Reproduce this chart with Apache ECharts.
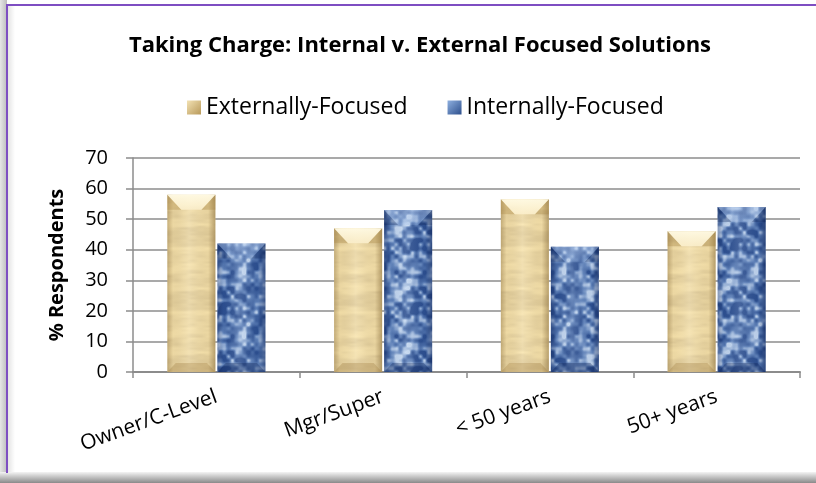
<!DOCTYPE html>
<html>
<head>
<meta charset="utf-8">
<script src="https://cdn.jsdelivr.net/npm/echarts@6/dist/echarts.min.js"></script>
<style>
  html, body { margin: 0; padding: 0; background: #ffffff; }
  #chart { width: 816px; height: 483px; }
</style>
</head>
<body>
<div id="chart"></div>
<script>
// Survey groups and the share of respondents choosing each kind of solution (%)
const categories = ['Owner/C-Level', 'Mgr/Super', '< 50 years', '50+ years'];
const externallyFocused = [58, 47, 56.5, 46];
const internallyFocused = [42, 53, 41, 54];
const seriesNames = ['Externally-Focused', 'Internally-Focused'];
const yMin = 0, yMax = 70, yStep = 10;

const FONT = '"Open Sans", Lato, sans-serif';

// deterministic value-noise used to paint the bar textures
function hash(ix, iy, s) {
  const n = Math.sin(ix * 127.1 + iy * 311.7 + s * 74.7) * 43758.5453;
  return n - Math.floor(n);
}
function noise(x, y, cx, cy, size, s) {
  const gx = size / cx, gy = size / cy;
  const fx = x / cx, fy = y / cy;
  const x0 = Math.floor(fx), y0 = Math.floor(fy);
  const tx = fx - x0, ty = fy - y0;
  const sx = tx * tx * (3 - 2 * tx), sy = ty * ty * (3 - 2 * ty);
  const h = (a, b) => hash(((a % gx) + gx) % gx, ((b % gy) + gy) % gy, s);
  const a = h(x0, y0), b = h(x0 + 1, y0), c = h(x0, y0 + 1), d = h(x0 + 1, y0 + 1);
  return (a * (1 - sx) + b * sx) * (1 - sy) + (c * (1 - sx) + d * sx) * sy;
}
function makeTexture(kind) {
  const size = 64;
  const cv = document.createElement('canvas');
  cv.width = size; cv.height = size;
  const ctx = cv.getContext('2d');
  const img = ctx.createImageData(size, size);
  for (let y = 0; y < size; y++) {
    for (let x = 0; x < size; x++) {
      let r, g, b;
      if (kind === 'tan') {
        const n1 = noise(x, y, 32, 4, size, 1);
        const n2 = noise(x, y, 8, 2, size, 2);
        const k = (n1 - 0.5) * 22 + (n2 - 0.5) * 10;
        r = 236 + k; g = 216 + k; b = 164 + k * 0.8;
      } else {
        const n1 = noise(x, y, 4, 4, size, 3);
        const n2 = noise(x, y, 8, 8, size, 4);
        const n = n1 * 0.6 + n2 * 0.4;
        if (n > 0.55) {
          const t = Math.min(1, (n - 0.55) / 0.25);
          r = 100 + 95 * t; g = 135 + 80 * t; b = 190 + 50 * t;
        } else {
          const t = Math.min(1, (0.55 - n) / 0.3);
          r = 100 - 55 * t; g = 135 - 55 * t; b = 190 - 45 * t;
        }
      }
      const i = (y * size + x) * 4;
      img.data[i] = r; img.data[i + 1] = g; img.data[i + 2] = b; img.data[i + 3] = 255;
    }
  }
  ctx.putImageData(img, 0, 0);
  return cv;
}

const textures = [makeTexture('tan'), makeTexture('blue')];
const bevel = [
  { top: ['rgba(255,250,228,0.95)', 'rgba(252,240,205,0.85)'], corner: 'rgba(160,125,60,0.35)',
    bottom: 'rgba(150,115,55,0.28)', edge: 'rgba(110,80,30,' },
  { top: ['rgba(190,210,240,0.45)', 'rgba(150,180,225,0.25)'], corner: 'rgba(10,30,80,0.25)',
    bottom: 'rgba(10,30,80,0.30)', edge: 'rgba(10,25,70,' }
];

// beveled bar, positioned from the category band and value scale
function makeRenderer(si) {
  return function (params, api) {
    const ci = api.value(0), v = api.value(1);
    const band = api.size([1, 0])[0];
    const w = band * 0.288;
    const gap = band * 0.012;
    const base = api.coord([ci, 0]);
    const top = api.coord([ci, v]);
    const x = si === 0 ? base[0] - gap / 2 - w : base[0] + gap / 2;
    const y = top[1], yb = base[1], h = yb - y;
    const d = Math.min(15, h / 2), bw = Math.min(14, w / 3);
    const bv = bevel[si];
    return {
      type: 'group',
      children: [
        { type: 'rect', shape: { x: x, y: y, width: w, height: h },
          style: { fill: { image: textures[si], repeat: 'repeat' } } },
        { type: 'rect', shape: { x: x, y: y, width: w, height: h },
          style: { fill: new echarts.graphic.LinearGradient(0, 0, 1, 0, [
            { offset: 0, color: bv.edge + '0.35)' },
            { offset: 0.12, color: bv.edge + '0.05)' },
            { offset: 0.45, color: 'rgba(255,255,255,0.12)' },
            { offset: 0.85, color: bv.edge + '0.05)' },
            { offset: 1, color: bv.edge + '0.45)' }
          ]) } },
        { type: 'polygon', shape: { points: [[x, y], [x + bw, y + d], [x, y + d]] },
          style: { fill: bv.corner } },
        { type: 'polygon', shape: { points: [[x + w, y], [x + w - bw, y + d], [x + w, y + d]] },
          style: { fill: bv.corner } },
        { type: 'polygon', shape: { points: [[x, y], [x + w, y], [x + w - bw, y + d], [x + bw, y + d]] },
          style: { fill: new echarts.graphic.LinearGradient(0, 0, 0, 1, [
            { offset: 0, color: bv.top[0] }, { offset: 1, color: bv.top[1] }
          ]) } },
        { type: 'polygon', shape: { points: [[x, yb], [x + w, yb], [x + w - bw * 0.6, yb - d * 0.6], [x + bw * 0.6, yb - d * 0.6]] },
          style: { fill: bv.bottom } }
      ]
    };
  };
}

const legendColors = [
  new echarts.graphic.LinearGradient(0, 0, 1, 1, [{ offset: 0, color: '#f3e2b4' }, { offset: 1, color: '#b8995a' }]),
  new echarts.graphic.LinearGradient(0, 0, 1, 1, [{ offset: 0, color: '#8fb0e0' }, { offset: 1, color: '#2d4f8c' }])
];

const chart = echarts.init(document.getElementById('chart'), null, { renderer: 'canvas' });
chart.setOption({
  animation: false,
  backgroundColor: '#ffffff',
  textStyle: { fontFamily: FONT },
  graphic: [
    { type: 'rect', z: -10, shape: { x: 0, y: 0, width: 7, height: 483 },
      style: { fill: new echarts.graphic.LinearGradient(0, 0, 1, 0, [{ offset: 0, color: '#e6e6e6' }, { offset: 1, color: '#bdbdbd' }]) } },
    { type: 'rect', z: -10, shape: { x: 0, y: 472, width: 816, height: 11 },
      style: { fill: new echarts.graphic.LinearGradient(0, 0, 0, 1, [{ offset: 0, color: '#f4f4f4' }, { offset: 1, color: '#8a8a8a' }]) } },
    { type: 'rect', z: -10, shape: { x: 8, y: 6, width: 7, height: 466 },
      style: { fill: new echarts.graphic.LinearGradient(0, 0, 1, 0, [{ offset: 0, color: 'rgba(0,0,0,0.10)' }, { offset: 1, color: 'rgba(0,0,0,0)' }]) } },
    { type: 'polyline', z: 10, shape: { points: [[7, 473], [7, 5], [816, 5]] },
      style: { stroke: '#7e4ec2', lineWidth: 2, fill: null } },
    { type: 'text', x: 420, y: 46,
      style: { text: 'Taking Charge: Internal v. External Focused Solutions', font: 'bold 22px ' + FONT,
               fill: '#000', textAlign: 'center', textVerticalAlign: 'middle' } }
  ],
  legend: {
    left: 182, top: 91,
    itemWidth: 14, itemHeight: 14, itemGap: 40,
    icon: 'rect',
    textStyle: { fontSize: 23, color: '#000', fontFamily: FONT },
    data: seriesNames
  },
  grid: { left: 133, right: 16, top: 158, bottom: 111, containLabel: false },
  xAxis: {
    type: 'category',
    data: categories,
    boundaryGap: true,
    axisLine: { lineStyle: { color: '#8c8c8c', width: 2 } },
    axisTick: { show: true, length: 6, lineStyle: { color: '#8c8c8c', width: 1.5 } },
    axisLabel: { rotate: 20, fontSize: 21, color: '#000', margin: 24, fontFamily: FONT }
  },
  yAxis: {
    type: 'value',
    min: yMin, max: yMax, interval: yStep,
    name: '% Respondents',
    nameLocation: 'middle',
    nameGap: 66,
    nameTextStyle: { fontSize: 20, fontWeight: 'bold', color: '#000', fontFamily: FONT },
    axisLine: { show: true, lineStyle: { color: '#8c8c8c', width: 1.5 } },
    axisTick: { show: true, length: 7, lineStyle: { color: '#8c8c8c', width: 1.5 } },
    axisLabel: { fontSize: 20, color: '#000', margin: 25, fontFamily: FONT },
    splitLine: { lineStyle: { color: '#8c8c8c', width: 1.5 } }
  },
  series: [
    { name: seriesNames[0], type: 'custom', renderItem: makeRenderer(0),
      itemStyle: { color: legendColors[0] },
      encode: { x: 0, y: 1 }, data: externallyFocused.map((v, i) => [i, v]) },
    { name: seriesNames[1], type: 'custom', renderItem: makeRenderer(1),
      itemStyle: { color: legendColors[1] },
      encode: { x: 0, y: 1 }, data: internallyFocused.map((v, i) => [i, v]) }
  ]
});
</script>
</body>
</html>
